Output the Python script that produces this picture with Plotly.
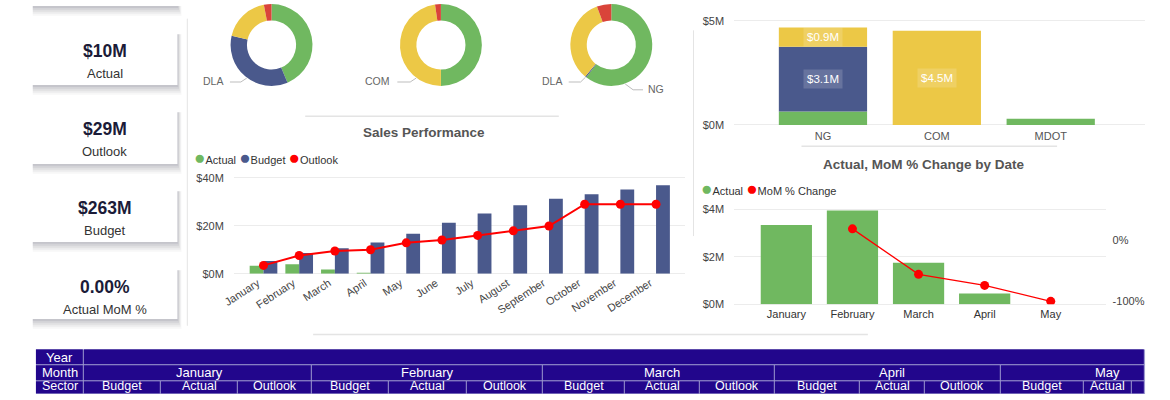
import numpy as np
import plotly.graph_objects as go

W, H = 1170, 400
def X(px): return px / W
def Y(py): return 1 - py / H

FONT = "Liberation Sans, Arial, sans-serif"
GREEN = "#70b860"
BLUE = "#4a598c"
YELLOW = "#ecc846"
RED_PIE = "#d9443a"
RED = "#ff0000"
GRID = "#ececec"
SEP = "#e4e4e4"
TABLE_BG = "#22068c"
TABLE_LINE = "#9e9ad0"

# ---------------- data ----------------
kpi_values = ["$10M", "$29M", "$263M", "0.00%"]
kpi_labels = ["Actual", "Outlook", "Budget", "Actual MoM %"]

sectors = ["NG", "DLA", "COM", "MDOT"]
donut1_share = [43.6, 35.0, 18.4, 3.0]
donut2_share = [50.0, 0.0, 47.7, 2.3]
donut3_share = [60.5, 0.5, 33.3, 5.7]

months = ["January", "February", "March", "April", "May", "June", "July",
          "August", "September", "October", "November", "December"]
actual_m = [3.35, 3.96, 1.75, 0.46, None, None, None, None, None, None, None, None]
budget_m = [5.3, 8.7, 10.6, 13.0, 16.7, 21.3, 25.1, 28.6, 31.3, 33.2, 35.1, 36.9]
outlook_m = [3.5, 7.6, 9.5, 10.0, 12.9, 14.1, 16.0, 17.9, 19.9, 29.0, 29.0, 29.0]

cat2 = ["NG", "COM", "MDOT"]
stack_green = [0.64, 0.0, 0.30]
stack_blue = [3.12, 0.0, 0.0]
stack_yellow = [0.92, 4.53, 0.0]

months5 = ["January", "February", "March", "April", "May"]
actual5 = [3.35, 3.96, 1.75, 0.46, None]
mom5 = [None, 18, -56, -74, -100]
mom_ticks = [0, -100]
mom_ticktext = ["0%", "-100%"]

tbl_row_labels = ["Year", "Month", "Sector"]
tbl_months = ["January", "February", "March", "April", "May"]
tbl_measures = ["Budget", "Actual", "Outlook"]
tbl_colwidths = [48, 78, 78, 75, 77, 79, 77, 83, 75, 76, 86, 65, 77, 84, 48, 14]

fig = go.Figure()

# ---------------- donuts ----------------
R = 42
donut_cx = [263, 434, 606]
for cx, share in zip(donut_cx, [donut1_share, donut2_share, donut3_share]):
    fig.add_trace(go.Pie(
        values=share, labels=sectors, hole=0.6, sort=False,
        direction="clockwise", rotation=0, textinfo="none",
        marker=dict(colors=[GREEN, BLUE, YELLOW, RED_PIE], line=dict(width=0)),
        domain=dict(x=[X(cx - R), X(cx + R)], y=[Y(2 * R), Y(0)]),
        showlegend=False, hoverinfo="label+percent"))

# ---------------- sales performance ----------------
fig.add_trace(go.Bar(x=months, y=actual_m, name="Actual", marker=dict(color=GREEN, line=dict(width=0)),
                     xaxis="x", yaxis="y", showlegend=False))
fig.add_trace(go.Bar(x=months, y=budget_m, name="Budget", marker=dict(color=BLUE, line=dict(width=0)),
                     xaxis="x", yaxis="y", showlegend=False))
fig.add_trace(go.Scatter(x=months, y=outlook_m, name="Outlook", mode="lines+markers",
                         line=dict(color=RED, width=2), marker=dict(color=RED, size=9),
                         xaxis="x", yaxis="y", showlegend=False))

# ---------------- stacked sector bars ----------------
base_blue = np.array(stack_green)
base_yellow = base_blue + np.array(stack_blue)
for vals, base, col in [(stack_green, None, GREEN), (stack_blue, base_blue.tolist(), BLUE),
                        (stack_yellow, base_yellow.tolist(), YELLOW)]:
    fig.add_trace(go.Bar(x=cat2, y=vals, base=base, offsetgroup="stack",
                         marker=dict(color=col, line=dict(width=0)),
                         xaxis="x2", yaxis="y2", showlegend=False))

# ---------------- actual & MoM ----------------
fig.add_trace(go.Bar(x=months5, y=actual5, name="Actual", marker=dict(color=GREEN, line=dict(width=0)),
                     xaxis="x3", yaxis="y3", showlegend=False))
fig.add_trace(go.Scatter(x=months5, y=mom5, name="MoM % Change", mode="lines+markers",
                         line=dict(color=RED, width=1.3), marker=dict(color=RED, size=9),
                         xaxis="x3", yaxis="y4", showlegend=False))

# ---------------- header table as cell grid (heatmap bricks) ----------------
cw = np.array(tbl_colwidths, dtype=float)
edges_all = 25 + np.concatenate([[0], np.cumsum(cw)])
col_centers = (edges_all[:-1] + edges_all[1:]) / 2
edges_year = [edges_all[0], edges_all[1], edges_all[-1]]
edges_month = [edges_all[0]] + [edges_all[1 + 3 * i] for i in range(len(tbl_months))] + [edges_all[-1]]
row_tops = [354, 370.5, 387, 400]
row_edges = [edges_year, edges_month, list(edges_all)]
for r, ed in enumerate(row_edges):
    fig.add_trace(go.Heatmap(
        x=list(ed), y=[row_tops[r], row_tops[r + 1]], z=[[1] * (len(ed) - 1)],
        colorscale=[[0, TABLE_BG], [1, TABLE_BG]], showscale=False, xgap=1, ygap=1,
        xaxis="x5", yaxis="y5", hoverinfo="skip"))

# ---------------- shapes ----------------
shapes = []
shapes.append(dict(type="rect", xref="x5", yref="y5", x0=edges_all[0], x1=edges_all[-1],
                   y0=row_tops[0], y1=row_tops[-1], fillcolor=TABLE_LINE,
                   line=dict(width=0), layer="below"))

def shadow_card(x0, y0, x1, y1):
    for k, a in [(5, 0.045), (4, 0.055), (3, 0.065), (2, 0.075), (1, 0.085)]:
        shapes.append(dict(type="rect", xref="paper", yref="paper",
                           x0=X(x0 + 1), x1=X(x1 + k * 0.8), y0=Y(y1 + k * 2), y1=Y(max(y0 + 2, 0)),
                           fillcolor=f"rgba(60,60,80,{a})", line=dict(width=0)))
    shapes.append(dict(type="rect", xref="paper", yref="paper", x0=X(x0), x1=X(x1),
                       y0=Y(y1), y1=Y(max(y0, 0)), fillcolor="white", line=dict(width=0)))

shadow_card(21, 0, 168, 2)
cards = [(29, 83), (109, 164), (190, 244), (271, 323)]
for (t, b) in cards:
    shadow_card(21, t, 168, b)

def hline(x0, x1, y, w=1.5, color=SEP):
    shapes.append(dict(type="line", xref="paper", yref="paper", x0=X(x0), x1=X(x1),
                       y0=Y(y), y1=Y(y), line=dict(color=color, width=w)))
def vline(x, y0, y1, w=1.5, color=SEP):
    shapes.append(dict(type="line", xref="paper", yref="paper", x0=X(x), x1=X(x),
                       y0=Y(y0), y1=Y(y1), line=dict(color=color, width=w)))

hline(297, 553, 115)
hline(305, 865, 339)
hline(798, 1056, 146)
vline(178, 15, 330, 1)
vline(689, 27, 238, 1)

def leader(pts):
    path = "M " + " L ".join(f"{X(px)},{Y(py)}" for px, py in pts)
    shapes.append(dict(type="path", xref="paper", yref="paper", path=path,
                       line=dict(color="#bdbdbd", width=1)))
leader([(221, 80), (232, 80), (238, 76)])
leader([(390, 80), (403, 80), (409, 76)])
leader([(563, 80), (575, 80), (580, 75)])
leader([(620, 82), (628, 88), (638, 88)])

# ---------------- annotations ----------------
ann = []
def text(x, y, t, size, color, xanchor="center", bold=False):
    ann.append(dict(x=X(x), y=Y(y), xref="paper", yref="paper",
                    text=f"<b>{t}</b>" if bold else t, showarrow=False,
                    xanchor=xanchor, yanchor="middle",
                    font=dict(size=size, color=color, family=FONT)))

for (t, b), v, lab in zip(cards, kpi_values, kpi_labels):
    text(94.5, t + 19, v, 17.5, "#1b1b38", bold=True)
    text(94.5, t + 42, lab, 13, "#333333")

text(216, 79, sectors[1], 10.5, "#666666", "right")
text(385, 79, sectors[2], 10.5, "#666666", "right")
text(558, 79, sectors[1], 10.5, "#666666", "right")
text(641, 87, sectors[0], 10.5, "#666666", "left")

text(417, 131.5, "Sales Performance", 13.5, "#555555", bold=True)
text(922, 165, "Actual, MoM % Change by Date", 13.5, "#555555", bold=True)

def dot(c):
    return f"<span style='color:{c};font-size:19px'>●</span>"
text(183, 157, f"{dot(GREEN)}Actual {dot(BLUE)}Budget {dot(RED)}Outlook", 11, "#333333", "left")
text(695, 189, f"{dot(GREEN)}Actual {dot(RED)}MoM % Change", 11, "#333333", "left")

for vals, base in [(stack_blue, base_blue), (stack_yellow, base_yellow)]:
    for c, v, b0 in zip(cat2, vals, base):
        if v >= 0.8:
            ann.append(dict(x=c, y=b0 + v / 2, xref="x2", yref="y2", text=f"${v:.1f}M",
                            showarrow=False, bgcolor="rgba(255,255,255,0.16)", borderpad=3,
                            font=dict(size=11.5, color="white", family=FONT)))

# table texts (data coordinates of the grid axis)
def ttext(x, y, t, size=13, yanchor="middle"):
    ann.append(dict(x=x, y=y, xref="x5", yref="y5", text=t, showarrow=False,
                    xanchor="center", yanchor=yanchor, borderpad=0,
                    font=dict(size=size, color="white", family=FONT)))
ttext(col_centers[0], (row_tops[0] + row_tops[1]) / 2, tbl_row_labels[0])
ttext(col_centers[0], (row_tops[1] + row_tops[2]) / 2 - 0.8, tbl_row_labels[1])
ttext(col_centers[0], row_tops[3], tbl_row_labels[2], 12.5, "bottom")
for i, m in enumerate(tbl_months):
    ttext(col_centers[2 + 3 * i], (row_tops[1] + row_tops[2]) / 2 - 0.8, m)
sector_texts = [tbl_measures[j % 3] for j in range(len(cw) - 2)]
for j, s in enumerate(sector_texts):
    ttext(col_centers[1 + j], row_tops[3], s, 12.5, "bottom")

tickfont = dict(size=11, color="#444444", family=FONT)
fig.update_layout(
    width=W, height=H, margin=dict(l=0, r=0, t=0, b=0),
    paper_bgcolor="white", plot_bgcolor="white",
    font=dict(family=FONT, size=11, color="#333333"),
    showlegend=False, barmode="group", bargap=0.225,
    shapes=shapes, annotations=ann,
    xaxis=dict(domain=[X(225), X(680)], anchor="y", type="category", range=[-0.83, 11.8],
               tickangle=-33, tickfont=tickfont, showgrid=False, showline=False, ticks="",
               ticklabelshift=-6),
    yaxis=dict(domain=[Y(276.7), Y(175.84)], anchor="x", range=[0, 41], dtick=20,
               tickprefix="$", ticksuffix="M", gridcolor=GRID, zeroline=True,
               zerolinecolor=GRID, zerolinewidth=1, tickfont=tickfont, ticklabelstandoff=9),
    xaxis2=dict(domain=[X(730), X(1145)], anchor="y2", type="category", range=[-0.78, 2.83],
                tickfont=dict(size=11, color="#555555", family=FONT), showgrid=False, ticks="",
                ticklabelstandoff=3),
    yaxis2=dict(domain=[Y(124), Y(15.2)], anchor="x2", range=[0, 5.1], dtick=5,
                tickprefix="$", ticksuffix="M", gridcolor=GRID, zeroline=True,
                zerolinecolor=GRID, zerolinewidth=1, tickfont=tickfont, ticklabelstandoff=9),
    xaxis3=dict(domain=[X(730), X(1105)], anchor="y3", type="category", range=[-0.79, 4.83],
                tickfont=dict(size=11, color="#333333", family=FONT), showgrid=False, ticks="",
                ticklabelstandoff=2),
    yaxis3=dict(domain=[Y(308), Y(208.4)], anchor="x3", range=[0, 4.1], dtick=2,
                tickprefix="$", ticksuffix="M", gridcolor=GRID, zeroline=True,
                zerolinecolor=GRID, zerolinewidth=1, tickfont=tickfont, ticklabelstandoff=9),
    yaxis4=dict(overlaying="y3", side="right", anchor="x3", range=[-104.8, 53.3],
                tickmode="array", tickvals=mom_ticks, ticktext=mom_ticktext,
                showgrid=False, zeroline=False, tickfont=tickfont, ticklabelstandoff=6),
    xaxis5=dict(domain=[X(edges_all[0]), X(edges_all[-1])], anchor="y5",
                range=[edges_all[0], edges_all[-1]], visible=False, fixedrange=True),
    yaxis5=dict(domain=[0, Y(row_tops[0])], anchor="x5", range=[row_tops[-1], row_tops[0]],
                visible=False, fixedrange=True),
)

fig.write_html("out.html", config={"displayModeBar": False, "staticPlot": True},
               post_script="document.body.style.margin='0';document.body.style.overflow='hidden';")
